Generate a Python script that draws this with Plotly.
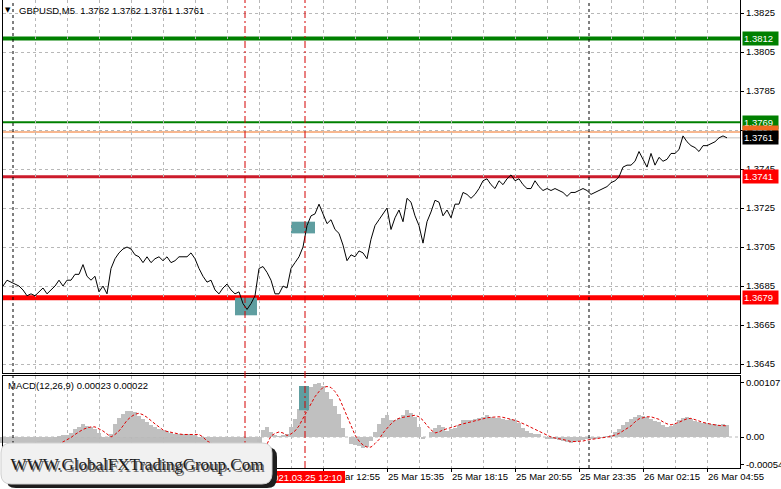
import pandas as pd
import plotly.graph_objects as go

# ---------------- data ----------------
symbol_title = "GBPUSD,M5\u00a0 1.3762 1.3762 1.3761 1.3761"
macd_title = "MACD(12,26,9) 0.00023 0.00022"
start_time = "2021-03-24 23:35"
bar_step = "10min"

close_prices = [
    1.3685, 1.3688, 1.3687, 1.3686, 1.3685, 1.3683, 1.3680, 1.3681, 1.3680, 1.3682,
    1.3684, 1.3681, 1.3683, 1.3685, 1.3688, 1.3685, 1.3688, 1.3688, 1.3691, 1.3691,
    1.3696, 1.3690, 1.3688, 1.3690, 1.3682, 1.3685, 1.3681, 1.3694, 1.3699, 1.3702,
    1.3704, 1.3705, 1.3704, 1.3701, 1.3700, 1.3697, 1.3700, 1.3697, 1.3699, 1.3700,
    1.3698, 1.3700, 1.3697, 1.3698, 1.3700, 1.3700, 1.3700, 1.3702, 1.3699, 1.3694,
    1.3690, 1.3687, 1.3688, 1.3683, 1.3681, 1.3684, 1.3686, 1.3683, 1.3681, 1.3682,
    1.3676, 1.3673, 1.3676, 1.3680, 1.3694, 1.3695, 1.3692, 1.3688, 1.3681, 1.3681,
    1.3685, 1.3684, 1.3694, 1.3697, 1.3700, 1.3705, 1.3716, 1.3721, 1.3722, 1.3727,
    1.3722, 1.3717, 1.3719, 1.3714, 1.3712, 1.3706, 1.3698, 1.3701, 1.3700, 1.3703,
    1.3702, 1.3699, 1.3709, 1.3716, 1.3719, 1.3722, 1.3725, 1.3714, 1.3720, 1.3724,
    1.3718, 1.3730, 1.3728, 1.3721, 1.3716, 1.3707, 1.3718, 1.3723, 1.3729, 1.3728,
    1.3721, 1.3724, 1.3720, 1.3727, 1.3727, 1.3733, 1.3732, 1.3730, 1.3732, 1.3735,
    1.3739, 1.3740, 1.3737, 1.3735, 1.3739, 1.3737, 1.3740, 1.3742, 1.3739, 1.3740,
    1.3737, 1.3735, 1.3735, 1.3739, 1.3736, 1.3734, 1.3735, 1.3734, 1.3735, 1.3734,
    1.3733, 1.3731, 1.3733, 1.3733, 1.3734, 1.3735, 1.3734, 1.3732, 1.3733, 1.3734,
    1.3735, 1.3736, 1.3738, 1.3739, 1.3741, 1.3746, 1.3747, 1.3747, 1.3749, 1.3754,
    1.3750, 1.3746, 1.3753, 1.3747, 1.3751, 1.3749, 1.3750, 1.3753, 1.3753, 1.3755,
    1.3762, 1.3759, 1.3757, 1.3756, 1.3754, 1.3757, 1.3757, 1.3758, 1.3759, 1.3761,
    1.3762, 1.3761,
]

macd_hist = [
    -0.00008, -0.0001, -0.00012, -0.00012, -0.0001, -0.0001, -0.00012, -0.00012, -0.0001, -0.00008,
    -0.00006, -0.00004, -0.00002, 0.0, 0.00001, 0.00003, 0.00004, 0.00007, 0.00015, 0.0002,
    0.00026, 0.00022, 0.00019, 0.00015, 0.00008, 0.0, -0.00003, 0.00006, 0.00025, 0.00038,
    0.00046, 0.00051, 0.00052, 0.00049, 0.00042, 0.00036, 0.0003, 0.00023, 0.00019, 0.00015,
    0.00013, 0.00012, 0.00007, 0.00005, 0.00005, 0.00005, 0.00005, 0.00006, 0.00004, 0.0,
    -0.00006, -0.00012, -0.00016, -0.0002, -0.00022, -0.00024, -0.00026, -0.00028, -0.0003, -0.00032,
    -0.00034, -0.00033, -0.00028, -0.0001, -0.00003, 0.00014, 0.0002, 0.0001, 0.00004, 0.00001,
    0.00002, 0.00005, 0.0002, 0.00036, 0.00056, 0.00076, 0.0009, 0.00099, 0.00105, 0.00107,
    0.00101, 0.0009, 0.00076, 0.00062, 0.00046, 0.00018, 0.0, -0.00013, -0.00015, -0.00018,
    -0.00022, -0.0002, -0.00008, 0.0001, 0.00026, 0.00037, 0.00044, 0.00034, 0.00034, 0.00038,
    0.00044, 0.00053, 0.00048, 0.0004, 0.0002, -0.00002, 0.0, 0.0001, 0.00018, 0.00024,
    0.0002, 0.00011, 0.00015, 0.00018, 0.00024, 0.00034, 0.00034, 0.00034, 0.00036, 0.00038,
    0.0004, 0.00044, 0.0004, 0.00037, 0.00037, 0.00036, 0.00034, 0.00036, 0.00033, 0.00028,
    0.00018, 0.00012, 0.00008, 0.00006, 0.00005, 0.0, -0.00003, -0.00004, -0.00004, -0.00005,
    -0.00007, -0.0001, -0.00012, -0.0001, -0.00008, -0.00005, -0.00004, -0.00003, -0.00002, -0.00001,
    -0.00001, 0.00001, 0.00004, 0.0001, 0.00016, 0.00024, 0.0003, 0.00035, 0.00039, 0.00043,
    0.00042, 0.0004, 0.00036, 0.00032, 0.00029, 0.00024, 0.0002, 0.00022, 0.00026, 0.00033,
    0.00038, 0.0004, 0.00035, 0.00032, 0.0003, 0.00028, 0.00027, 0.00026, 0.00025, 0.00024,
    0.00025, 0.00023,
]

macd_signal = [
    -0.0002, -0.0002, -0.0002, -0.0002, -0.00019, -0.00018, -0.00018, -0.00018, -0.00017, -0.00017,
    -0.00017, -0.00016, -0.00016, -0.00016, -0.00014, -0.0001, -0.00006, -0.00001, 0.00005, 0.0001,
    0.00015, 0.00018, 0.0002, 0.0002, 0.00016, 0.00012, 0.00006, 0.0, 0.00005, 0.00012,
    0.00022, 0.00033, 0.0004, 0.00045, 0.00047, 0.00044, 0.00039, 0.00032, 0.00026, 0.0002,
    0.00014, 0.00011, 0.00009, 0.00007, 0.00006, 0.00005, 0.00005, 0.00005, 0.00005, 0.00005,
    0.0, -0.00008, -0.00012, -0.00016, -0.0002, -0.00024, -0.00028, -0.00031, -0.00033, -0.00034,
    -0.00034, -0.00032, -0.0003, -0.00025, -0.0002, -0.00018, -0.00014, 0.00002, 0.00007, 0.0001,
    0.00008, 0.00003, 0.00006, 0.00012, 0.00022, 0.00037, 0.00052, 0.00066, 0.0008, 0.0009,
    0.00098, 0.001, 0.00098, 0.0009, 0.00078, 0.0006, 0.0004, 0.0002, 0.00004, -0.00008,
    -0.00016, -0.0002, -0.0002, -0.00013, -0.00005, 0.00008, 0.00018, 0.00026, 0.00033, 0.00037,
    0.00039, 0.0004, 0.00042, 0.00043, 0.0004, 0.00033, 0.00023, 0.00014, 0.00008, 0.0001,
    0.00014, 0.00016, 0.00018, 0.00021, 0.00024, 0.00026, 0.00028, 0.0003, 0.00033, 0.00035,
    0.00037, 0.00038, 0.00039, 0.0004, 0.0004, 0.00039, 0.00037, 0.00036, 0.00033, 0.0003,
    0.00027, 0.00023, 0.00019, 0.00015, 0.00011, 0.00007, 0.00003, 0.0, -0.00002, -0.00003,
    -0.00005, -0.00007, -0.00009, -0.00009, -0.00009, -0.00008, -0.00006, -0.00005, -0.00003, -0.00002,
    -0.00001, 0.0, 0.00001, 0.00004, 0.00007, 0.00012, 0.00017, 0.00022, 0.0003, 0.00036,
    0.00038, 0.0004, 0.0004, 0.00038, 0.00035, 0.0003, 0.00026, 0.00024, 0.00026, 0.00029,
    0.00033, 0.00036, 0.00037, 0.00034, 0.00031, 0.00029, 0.00027, 0.00025, 0.00024, 0.00023,
    0.00022, 0.00022,
]

level_values = [1.3812, 1.3769, 1.3764, 1.3761, 1.3741, 1.3679]
level_labels = ["1.3812", "1.3769", "1.3764", "1.3761", "1.3741", "1.3679"]

price_ticks = [1.3645, 1.3665, 1.3685, 1.3705, 1.3725, 1.3745, 1.3765, 1.3785, 1.3805, 1.3825]
price_tick_labels = ["1.3645", "1.3665", "1.3685", "1.3705", "1.3725", "1.3745", "1.3765", "1.3785", "1.3805", "1.3825"]
macd_ticks = [0.00107, 0.0, -0.00054]
macd_tick_labels = ["0.00107", "0.00", "-0.00054"]

day_separators = ["2021-03-25 00:00", "2021-03-26 00:00"]
signal_times = ["2021-03-25 09:40", "2021-03-25 12:10"]
crosshair_label = "2021.03.25 12:10"
watermark_text = "WWW.GlobalFXTradingGroup.Com"

# highlighted zones: (start, end, low, high)
price_zones = [("2021-03-25 09:15", "2021-03-25 10:10", 1.3670, 1.3679),
               ("2021-03-25 11:35", "2021-03-25 12:35", 1.3712, 1.3718)]
macd_zones = [("2021-03-25 11:55", "2021-03-25 12:20", 0.00053, 0.00101)]

# ---------------- layout geometry / styles ----------------
W, H = 781, 489
ML, MR, MT, MB = 3, 41, 0, 21
PW = W - ML - MR
PH = H - MT - MB

def px(x):
    return (x - ML) / PW

def py(y):
    return 1 - (y - MT) / PH

level_styles = [
    dict(line="#008000", width=4, box="#008000"),
    dict(line="#008000", width=2, box="#008000"),
    dict(line="#f07020", width=1, box="#f06a20"),
    dict(line="#c0c0c0", width=1, box="#000000"),
    dict(line="#cc1b2b", width=3, box="#ff0000"),
    dict(line="#ff0000", width=5, box="#ff0000"),
]

FONT = "Liberation Sans"
GRID = "#b8b8b8"
MIN = 60 * 1000

times = pd.date_range(start=start_time, periods=len(close_prices), freq=bar_step)
x_range = [pd.Timestamp(start_time), pd.Timestamp(start_time) + pd.Timedelta(minutes=PW / 2 * 5)]

fig = go.Figure()
fig.add_trace(go.Scatter(x=times, y=close_prices, mode="lines",
                         line=dict(color="black", width=1), xaxis="x", yaxis="y",
                         showlegend=False, hoverinfo="skip"))
fig.add_trace(go.Bar(x=times, y=macd_hist, marker=dict(color="#c0c0c0", line=dict(width=0)),
                     width=10 * MIN, xaxis="x2", yaxis="y2", showlegend=False, hoverinfo="skip"))
fig.add_trace(go.Scatter(x=times, y=macd_signal, mode="lines",
                         line=dict(color="#e00000", width=1, dash="3px,2px"),
                         xaxis="x2", yaxis="y2", showlegend=False, hoverinfo="skip"))

shapes = []
shapes.append(dict(type="rect", xref="x2 domain", yref="y2", x0=px(0), x1=px(262),
                   y0=0, y1=-0.00012, fillcolor="#bdbdbd", line=dict(width=0), layer="below"))
shapes.append(dict(type="line", xref="x2 domain", yref="y2", x0=0, x1=1, y0=0, y1=0,
                   line=dict(color=GRID, width=1, dash="3px,3px"), layer="below"))
for t0, t1, lo, hi in price_zones:
    shapes.append(dict(type="rect", xref="x", yref="y", x0=t0, x1=t1, y0=lo, y1=hi,
                       fillcolor="#5f9ea0", line=dict(width=0), layer="below"))
for val, st in zip(level_values, level_styles):
    shapes.append(dict(type="line", xref="x domain", yref="y", x0=0, x1=1, y0=val, y1=val,
                       line=dict(color=st["line"], width=st["width"]), layer="below"))
for t0, t1, lo, hi in macd_zones:
    shapes.append(dict(type="rect", xref="x2", yref="y2", x0=t0, x1=t1, y0=lo, y1=hi,
                       fillcolor="#5f9ea0", line=dict(width=0), layer="above"))
for t in day_separators:
    shapes.append(dict(type="line", xref="x", yref="paper", x0=t, x1=t, y0=0, y1=1,
                       line=dict(color="black", width=1, dash="3px,3px"), layer="above"))
for t in signal_times:
    shapes.append(dict(type="line", xref="x", yref="paper", x0=t, x1=t, y0=0, y1=1,
                       line=dict(color="#d40000", width=1, dash="7px,3px,2px,3px"), layer="above"))

# crosshair time label box, centred on the signal time
ct = pd.Timestamp(signal_times[1])
shapes.append(dict(type="rect", xref="x", x0=ct - pd.Timedelta(minutes=100), x1=ct + pd.Timedelta(minutes=100),
                   yref="paper", y0=py(483), y1=py(471),
                   fillcolor="#ff0000", line=dict(width=0), layer="above",
                   label=dict(text=crosshair_label, font=dict(family=FONT, size=9.5, color="white"),
                              textposition="middle center")))

def rounded_path(x0, y0, x1, y1, r):
    def P(x, y):
        return f"{px(x):.5f},{py(y):.5f}"
    return (f"M {P(x0 + r, y0)} L {P(x1 - r, y0)} Q {P(x1, y0)} {P(x1, y0 + r)} "
            f"L {P(x1, y1 - r)} Q {P(x1, y1)} {P(x1 - r, y1)} L {P(x0 + r, y1)} "
            f"Q {P(x0, y1)} {P(x0, y1 - r)} L {P(x0, y0 + r)} Q {P(x0, y0)} {P(x0 + r, y0)} Z")

shapes.append(dict(type="path", xref="paper", yref="paper", path=rounded_path(6, 447, 277, 488, 10),
                   fillcolor="#1e1e1e", line=dict(width=0), layer="above"))
shapes.append(dict(type="path", xref="paper", yref="paper", path=rounded_path(1, 443, 272, 484, 10),
                   fillcolor="#f1f1f1", line=dict(color="#d0d0d0", width=1), layer="above"))
for dx, dy, col in [(1.5, 1.5, "#6a6a6a"), (0, 0, "#1c1c1c")]:
    shapes.append(dict(type="rect", xref="paper", yref="paper",
                       x0=px(4 + dx), x1=px(270 + dx), y0=py(480 + dy), y1=py(445 + dy),
                       fillcolor="rgba(0,0,0,0)", line=dict(width=0), layer="above",
                       label=dict(text=watermark_text,
                                  font=dict(family="Liberation Serif", size=17, color=col),
                                  textposition="middle center")))

annotations = []
annotations.append(dict(text="▼", xref="paper", yref="paper", x=px(8), y=py(10),
                        xanchor="center", yanchor="middle", showarrow=False,
                        font=dict(family="DejaVu Sans", size=7, color="black")))
annotations.append(dict(text=symbol_title, xref="paper", yref="paper", x=px(17), y=py(10.5),
                        xanchor="left", yanchor="middle", showarrow=False,
                        font=dict(family=FONT, size=9.5, color="black")))
annotations.append(dict(text=macd_title, xref="paper", yref="paper", x=px(6), y=py(385),
                        xanchor="left", yanchor="middle", showarrow=False,
                        font=dict(family=FONT, size=9.5, color="black")))
for val, lab, st in zip(level_values, level_labels, level_styles):
    annotations.append(dict(text=lab, xref="paper", yref="y", x=1, y=val, xshift=2,
                            xanchor="left", yanchor="middle", showarrow=False,
                            bgcolor=st["box"], borderpad=1, width=33, align="left",
                            font=dict(family=FONT, size=9.5, color="white")))

axis_common = dict(showline=True, linecolor="black", linewidth=1, mirror=True,
                   zeroline=False, automargin=False)

fig.update_layout(
    width=W, height=H,
    margin=dict(l=ML, r=MR, t=MT, b=MB, pad=0),
    paper_bgcolor="white", plot_bgcolor="rgba(0,0,0,0)",
    bargap=0, showlegend=False,
    font=dict(family=FONT, size=9.5, color="black"),
    xaxis=dict(domain=[0, 1], anchor="y", type="date", range=x_range,
               showticklabels=False, ticks="", dtick=80 * MIN, tick0=start_time,
               showgrid=True, gridcolor=GRID, griddash="3px,3px", gridwidth=1, **axis_common),
    xaxis2=dict(domain=[0, 1], anchor="y2", type="date", range=x_range, matches="x",
                dtick=160 * MIN, tick0=start_time, tickformat="%d %b %H:%M", tickangle=0,
                ticks="outside", ticklen=3, tickcolor="black", ticklabelposition="outside right",
                tickfont=dict(family=FONT, size=9.5, color="black"),
                showgrid=True, gridcolor=GRID, griddash="3px,3px", gridwidth=1,
                minor=dict(dtick=80 * MIN, tick0=start_time, showgrid=True,
                           gridcolor=GRID, griddash="3px,3px", ticks=""),
                **axis_common),
    yaxis=dict(domain=[py(373), 1], anchor="x", side="right",
               range=[1.36404, 1.38317], tickvals=price_ticks, ticktext=price_tick_labels,
               ticks="outside", ticklen=3, tickcolor="black",
               tickfont=dict(family=FONT, size=9.5, color="black"),
               showgrid=True, gridcolor=GRID, griddash="3px,3px", gridwidth=1, **axis_common),
    yaxis2=dict(domain=[0, py(376)], anchor="x2", side="right",
                range=[-0.000614, 0.001208], tickvals=macd_ticks, ticktext=macd_tick_labels,
                ticks="outside", ticklen=3, tickcolor="black",
                tickfont=dict(family=FONT, size=9.5, color="black"),
                showgrid=False, **axis_common),
    shapes=shapes,
    annotations=annotations,
)

fig.write_html(
    "out.html",
    config={"displayModeBar": False},
    post_script="document.body.style.margin='0';document.body.style.overflow='hidden';"
                "document.documentElement.style.overflow='hidden';",
)
